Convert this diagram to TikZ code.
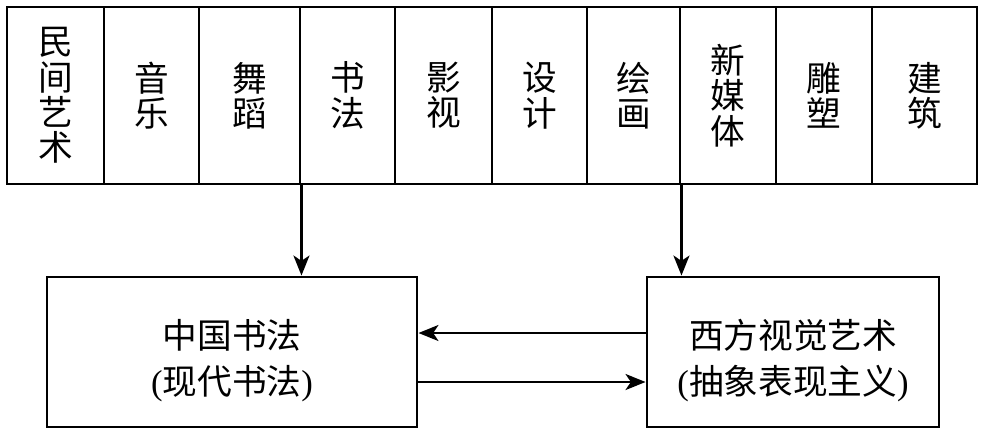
\documentclass[tikz,border=0pt]{standalone}
\usepackage{fontspec}
\setmainfont{Liberation Serif}
\newfontfamily\cjk{Noto Sans CJK SC}
\usetikzlibrary{arrows.meta}
\newcommand{\myup}{\rule{0pt}{35pt}}
\begin{document}
\begin{tikzpicture}[x=0.75pt,y=-0.75pt,
  cellbox/.style={draw,line width=2.2pt,minimum height=132.75pt,inner sep=0pt,align=center,
    font=\fontsize{26}{26.5}\selectfont\cjk},
  bigbox/.style={draw,line width=2.2pt,minimum height=112.5pt,inner sep=0pt,align=center,
    font=\fontsize{26}{35}\selectfont},
  arr/.style={line width=1.9pt,-{Stealth[length=15pt,width=12pt,inset=4pt]}}]
\fill[white] (0,0) rectangle (985,429);
\useasboundingbox (0,0) rectangle (985,429);
\node[cellbox,minimum width=72.75pt] (c1) at (55.5,95.5) {民\\间\\艺\\术};
\node[cellbox,minimum width=71.25pt] (c2) at (151.5,95.5) {音\\乐};
\node[cellbox,minimum width=75.75pt] (c3) at (249.5,95.5) {舞\\蹈};
\node[cellbox,minimum width=71.25pt] (c4) at (347.5,95.5) {书\\法};
\node[cellbox,minimum width=72.75pt] (c5) at (443.5,95.5) {影\\视};
\node[cellbox,minimum width=71.25pt] (c6) at (539.5,95.5) {设\\计};
\node[cellbox,minimum width=69.75pt] (c7) at (633.5,95.5) {绘\\画};
\node[cellbox,minimum width=72pt] (c8) at (728,95.5) {新\\媒\\体};
\node[cellbox,minimum width=72pt] (c9) at (824,95.5) {雕\\塑};
\node[cellbox,minimum width=78.75pt] (c10) at (924.5,95.5) {建\\筑};
\node[bigbox,minimum width=277.5pt] (b1) at (232,352) {\myup{\cjk 中国书法}\\({\cjk 现代书法})};
\node[bigbox,minimum width=219pt] (b2) at (793,352) {\myup{\cjk 西方视觉艺术}\\({\cjk 抽象表现主义})};
\draw[arr] (c3.south east) -- (c3.south east |- b1.north);
\draw[arr] (c7.south east) -- (c7.south east |- b2.north);
\draw[arr] (b2.west |- 0,333) -- (b1.east |- 0,333);
\draw[arr] (b1.east |- 0,382) -- (b2.west |- 0,382);
\end{tikzpicture}
\end{document}
